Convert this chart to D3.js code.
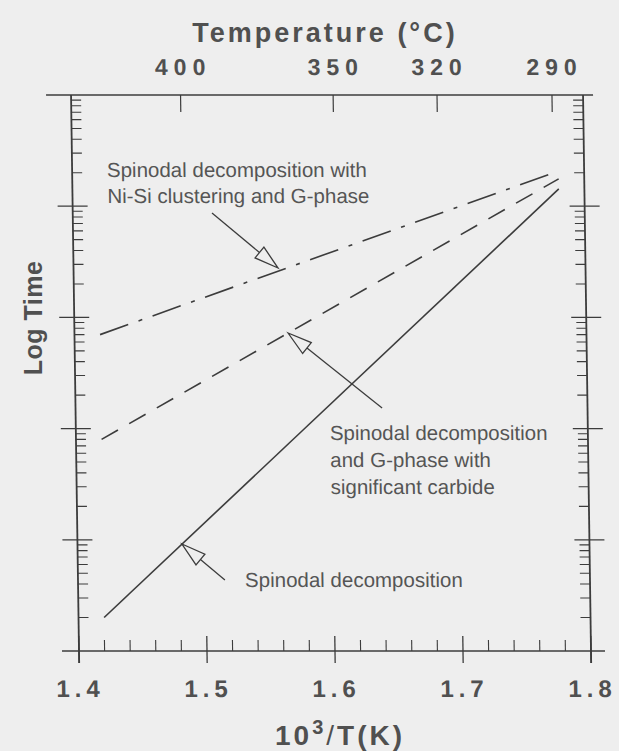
<!DOCTYPE html>
<html>
<head>
<meta charset="utf-8">
<script src="https://cdn.jsdelivr.net/npm/d3@7/dist/d3.min.js"></script>
<style>
  html, body { margin: 0; padding: 0; background: #eeeeee; }
  svg { display: block; }
  text { font-family: "Liberation Sans", Arial, Helvetica, sans-serif; }
</style>
</head>
<body>
<svg id="chart" width="619" height="751"></svg>
<script>
// ---- data ----
const xValues = [1.42, 1.78];                 // 10^3/T(K) at line ends
const spinodal = [2.0, 14300];                // Log Time (arbitrary units)
const carbide = [80, 17600];
const niSi = [700, 20700];
const xTicks = [1.4, 1.5, 1.6, 1.7, 1.8];
const xTickLabels = ["1.4", "1.5", "1.6", "1.7", "1.8"];
const tempTicks = [400, 350, 320, 290];       // °C
const yDecades = [1, 10, 100, 1000, 10000, 100000];

// annotations: [tail x, tail y, tip x, tip y] in data units
const annoArrows = [
  [1.5088, 8690, 1.5598, 2780],
  [1.6395, 153, 1.5669, 724],
  [1.5148, 4.35, 1.4816, 9.17]
];
const annoTexts = [
  { x: 1.4272, y: 18300, lines: ["Spinodal decomposition with", "Ni-Si clustering and G-phase"], lh: 26 },
  { x: 1.5984, y: 79, lines: ["Spinodal decomposition", "and G-phase with", "significant carbide"], lh: 27 },
  { x: 1.5305, y: 3.76, lines: ["Spinodal decomposition"], lh: 26 }
];

// ---- layout ----
const L = 79, R = 591, T = 95, B = 651;
const ink = "#3c3c3c", txt = "#505050", bg = "#eeeeee";

const svg = d3.select("#chart");
svg.append("rect").attr("width", 619).attr("height", 751).attr("fill", bg);

const g = svg.append("g")
  .attr("transform", `translate(0,${B}) skewX(0.82) translate(0,${-B})`);

const x = d3.scaleLinear().domain([1.4, 1.8]).range([L, R]);
const y = d3.scaleLog().domain([1, 100000]).range([B, T]);

// frame lines
g.append("line").attr("x1", L - 25).attr("x2", R + 10).attr("y1", T).attr("y2", T)
  .attr("stroke", ink).attr("stroke-width", 1.6);
g.append("line").attr("x1", L - 17).attr("x2", R + 14).attr("y1", B).attr("y2", B)
  .attr("stroke", ink).attr("stroke-width", 1.6);
g.append("line").attr("x1", L).attr("x2", L).attr("y1", T).attr("y2", B + 12)
  .attr("stroke", ink).attr("stroke-width", 1.8);
g.append("line").attr("x1", R).attr("x2", R).attr("y1", T).attr("y2", B + 12)
  .attr("stroke", ink).attr("stroke-width", 1.8);

// bottom axis ticks
const xMinor = d3.range(1.42, 1.8, 0.02).filter(v => Math.abs(Math.round(v * 10) - v * 10) > 1e-6);
g.selectAll(".xminor").data(xMinor).enter().append("line")
  .attr("x1", d => x(d)).attr("x2", d => x(d)).attr("y1", B).attr("y2", B - 11)
  .attr("stroke", ink).attr("stroke-width", 1.1);
g.selectAll(".xmajor").data(xTicks).enter().append("line")
  .attr("x1", d => x(d)).attr("x2", d => x(d)).attr("y1", B - 15).attr("y2", B + 12)
  .attr("stroke", ink).attr("stroke-width", 1.3);
g.selectAll(".xlab").data(xTicks).enter().append("text")
  .attr("x", d => x(d) + 1).attr("y", B + 46)
  .attr("text-anchor", "middle").attr("font-size", 24).attr("font-weight", "bold")
  .attr("letter-spacing", 5).attr("fill", txt)
  .text((d, i) => xTickLabels[i]);

// top axis (temperature)
const invT = c => 1000 / (c + 273.15);
g.selectAll(".ttick").data(tempTicks).enter().append("line")
  .attr("x1", d => x(invT(d))).attr("x2", d => x(invT(d))).attr("y1", T).attr("y2", T + 17)
  .attr("stroke", ink).attr("stroke-width", 1.2);
g.selectAll(".tlab").data(tempTicks).enter().append("text")
  .attr("x", d => x(invT(d)) + 3).attr("y", T - 20)
  .attr("text-anchor", "middle").attr("font-size", 23).attr("font-weight", "bold")
  .attr("letter-spacing", 6).attr("fill", txt)
  .text(d => d);

// log y ticks both sides
const yMinor = [];
yDecades.slice(0, -1).forEach(d => { for (let k = 2; k <= 9; k++) yMinor.push(d * k); });
const yMajor = yDecades.slice(1, -1);
[[L, 1], [R, -1]].forEach(([ax, dir]) => {
  g.selectAll(null).data(yMinor).enter().append("line")
    .attr("x1", ax).attr("x2", ax + dir * 10).attr("y1", d => y(d)).attr("y2", d => y(d))
    .attr("stroke", ink).attr("stroke-width", 1.1);
  g.selectAll(null).data(yMajor).enter().append("line")
    .attr("x1", ax - 15).attr("x2", ax + 15).attr("y1", d => y(d)).attr("y2", d => y(d))
    .attr("stroke", ink).attr("stroke-width", 1.3);
});

// series lines
const line = d3.line().x(d => x(d[0])).y(d => y(d[1]));
const series = [
  { v: spinodal, dash: null },
  { v: carbide, dash: "19,13" },
  { v: niSi, dash: "30,11,4,11" }
];
series.forEach(s => {
  g.append("path").datum(xValues.map((xv, i) => [xv, s.v[i]]))
    .attr("d", line).attr("fill", "none").attr("stroke", ink).attr("stroke-width", 1.6)
    .attr("stroke-dasharray", s.dash);
});

// annotation arrows (hollow heads)
annoArrows.forEach(a => {
  const x1 = x(a[0]), y1 = y(a[1]), x2 = x(a[2]), y2 = y(a[3]);
  const ang = Math.atan2(y2 - y1, x2 - x1);
  const hl = 24, hw = 7;
  const bx = x2 - hl * Math.cos(ang), by = y2 - hl * Math.sin(ang);
  const px = -Math.sin(ang) * hw, py = Math.cos(ang) * hw;
  g.append("line").attr("x1", x1).attr("y1", y1).attr("x2", bx).attr("y2", by)
    .attr("stroke", ink).attr("stroke-width", 1.3);
  g.append("path")
    .attr("d", `M${x2},${y2}L${bx + px},${by + py}L${bx + px * 0.35},${by + py * 0.35}L${bx - px},${by - py}Z`)
    .attr("fill", bg).attr("stroke", ink).attr("stroke-width", 1.3).attr("stroke-linejoin", "miter");
});

// annotation texts
annoTexts.forEach(t => {
  const el = g.append("text").attr("x", x(t.x)).attr("y", y(t.y))
    .attr("font-size", 20.5).attr("fill", "#555");
  t.lines.forEach((s, i) => el.append("tspan").attr("x", x(t.x)).attr("dy", i ? t.lh : 0).text(s));
});

// axis titles
svg.append("text").attr("x", 325).attr("y", 42).attr("text-anchor", "middle")
  .attr("font-size", 27).attr("font-weight", "bold").attr("letter-spacing", 3).attr("fill", txt)
  .text("Temperature (°C)");

const xt = svg.append("text").attr("x", 340).attr("y", 745).attr("text-anchor", "middle")
  .attr("font-size", 28).attr("font-weight", "bold").attr("letter-spacing", 3).attr("fill", txt);
xt.append("tspan").text("10");
xt.append("tspan").attr("font-size", 20).attr("dy", -11).text("3");
xt.append("tspan").attr("dy", 11).attr("font-weight", "normal").text("/");
xt.append("tspan").text("T(K)");

svg.append("text").attr("transform", "translate(42,318) rotate(-90)")
  .attr("text-anchor", "middle").attr("font-size", 25).attr("font-weight", "bold")
  .attr("letter-spacing", 0.5).attr("fill", txt)
  .text("Log Time");
</script>
</body>
</html>
